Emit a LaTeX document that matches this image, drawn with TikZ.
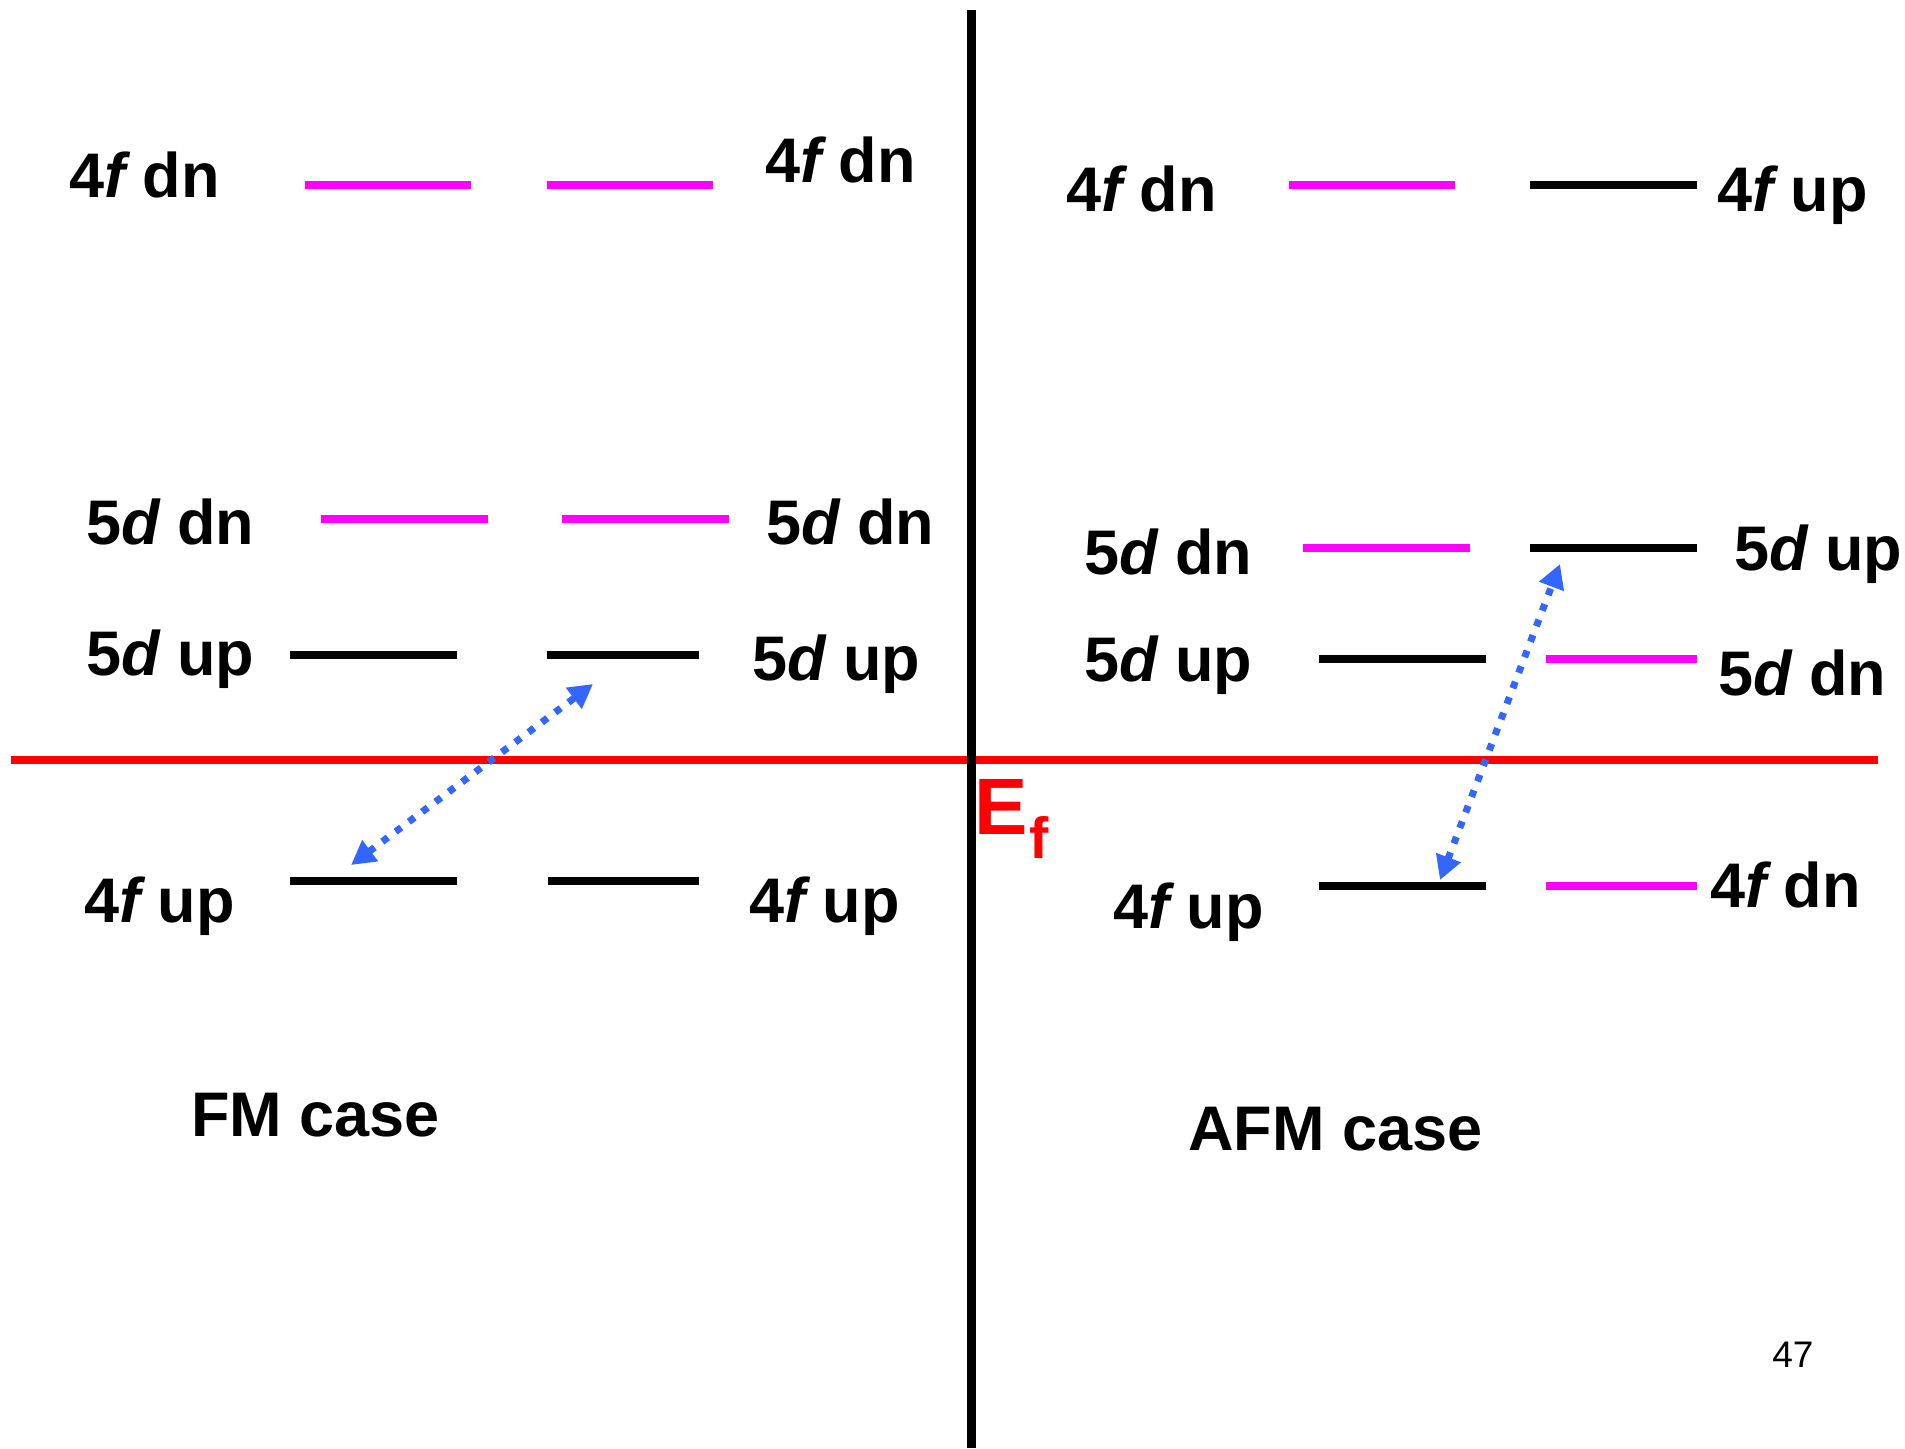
\documentclass[tikz,border=0pt]{standalone}
\usepackage{fontspec}
\setmainfont{Liberation Sans}
\usetikzlibrary{arrows.meta}
\definecolor{mag}{HTML}{FF00FF}
\definecolor{efred}{HTML}{FF0000}
\definecolor{arrblue}{HTML}{3366FF}
\begin{document}
\begin{tikzpicture}[x=0.5pt,y=-0.5pt,
  lbl/.style={anchor=base west, inner sep=0pt, font=\fontsize{31.5}{36}\selectfont\bfseries},
  lvlk/.style={line width=4.3pt, draw=black},
  lvlm/.style={line width=4.3pt, draw=mag},
  trans/.style={draw=arrblue, line width=3.5pt, dash pattern=on 3.5pt off 4.8pt,
    {Triangle[length=12pt,width=12.5pt]}-{Triangle[length=12pt,width=12.5pt]}}
]
\useasboundingbox (0,0) rectangle (1905,1448);

% axes
\coordinate (redL) at (11,760);
\coordinate (redR) at (1878,760);
\coordinate (axT) at (971.5,10);
\coordinate (axB) at (971.5,1448);
\draw[efred, line width=4.2pt] (redL) -- (redR);
\draw[black, line width=4.5pt] (axT) -- (axB);

% FM levels
\draw[lvlm] (305,185) -- (471,185);
\draw[lvlm] (547,185) -- (713,185);
\draw[lvlm] (321,519) -- (488,519);
\draw[lvlm] (562,519) -- (729,519);
\draw[lvlk] (290,655) -- (457,655);
\draw[lvlk] (547,655) -- (699,655);
\draw[lvlk] (290,881) -- (457,881);
\draw[lvlk] (548,881) -- (699,881);

% AFM levels
\draw[lvlm] (1289,185) -- (1455,185);
\draw[lvlk] (1530,185) -- (1697,185);
\draw[lvlm] (1303,548) -- (1470,548);
\draw[lvlk] (1530,548) -- (1697,548);
\draw[lvlk] (1319,659) -- (1486,659);
\draw[lvlm] (1546,659) -- (1697,659);
\draw[lvlk] (1319,886) -- (1486,886);
\draw[lvlm] (1546,886) -- (1697,886);

% FM labels
\node[lbl] (f1) at (69,197) {4{\itshape f} dn};
\node[lbl] (f2) at (86,544) {5{\itshape d} dn};
\node[lbl] (f3) at (86,675) {5{\itshape d} up};
\node[lbl] (f4) at (84,922) {4{\itshape f} up};
\node[lbl] (f5) at (765,182) {4{\itshape f} dn};
\node[lbl] (f6) at (766,544) {5{\itshape d} dn};
\node[lbl] (f7) at (752,680) {5{\itshape d} up};
\node[lbl] (f8) at (749,922) {4{\itshape f} up};

% AFM labels
\node[lbl] (a1) at (1066,211) {4{\itshape f} dn};
\node[lbl] (a2) at (1717,211) {4{\itshape f} up};
\node[lbl] (a3) at (1084,574) {5{\itshape d} dn};
\node[lbl] (a4) at (1734,570) {5{\itshape d} up};
\node[lbl] (a5) at (1084,681) {5{\itshape d} up};
\node[lbl] (a6) at (1718,695) {5{\itshape d} dn};
\node[lbl] (a7) at (1113,928) {4{\itshape f} up};
\node[lbl] (a8) at (1710,907) {4{\itshape f} dn};

% case labels
\node[lbl] (fmcase) at (191,1136) {FM case};
\node[lbl] (afmcase) at (1188,1150) {AFM case};

% Fermi level label
\node[anchor=base west, inner sep=0pt, text=efred, font=\fontsize{40}{48}\selectfont\bfseries]
  (ef) at (974,834) {E\kern1pt\raisebox{-12pt}{\fontsize{29}{31}\selectfont f}};

% page number
\node[anchor=base west, inner sep=0pt, font=\fontsize{18.5}{22}\selectfont] (pg) at (1772,1367) {47};

% transitions
\coordinate (fmA) at (351,865);
\coordinate (fmB) at (593,684);
\coordinate (afA) at (1440,880);
\coordinate (afB) at (1560,564);
\draw[trans] (fmA) -- (fmB);
\draw[trans] (afA) -- (afB);
\end{tikzpicture}
\end{document}
